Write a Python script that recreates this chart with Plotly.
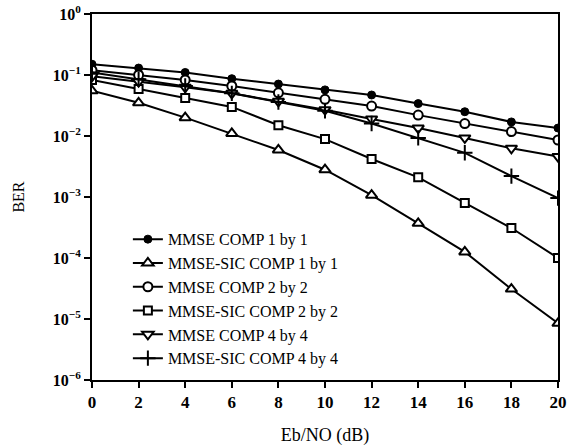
import plotly.graph_objects as go

ebno = [0, 2, 4, 6, 8, 10, 12, 14, 16, 18, 20]

mmse_1x1 = [0.15, 0.13, 0.11, 0.087, 0.071, 0.057, 0.047, 0.034, 0.025, 0.017, 0.0135]
sic_1x1 = [0.055, 0.035, 0.020, 0.011, 0.0059, 0.0028, 0.00107, 0.00037, 0.000126, 3.1e-5, 8.5e-6]
mmse_2x2 = [0.12, 0.10, 0.083, 0.066, 0.051, 0.040, 0.031, 0.022, 0.016, 0.0118, 0.0086]
sic_2x2 = [0.083, 0.059, 0.042, 0.030, 0.015, 0.0089, 0.0042, 0.0021, 0.0008, 0.00031, 0.0001]
mmse_4x4 = [0.095, 0.078, 0.063, 0.05, 0.037, 0.027, 0.019, 0.0135, 0.0093, 0.0063, 0.0046]
sic_4x4 = [0.11, 0.085, 0.066, 0.05, 0.036, 0.026, 0.016, 0.0093, 0.0053, 0.0022, 0.00096]

series_names = [
    "MMSE COMP 1 by 1",
    "MMSE-SIC COMP 1 by 1",
    "MMSE COMP 2 by 2",
    "MMSE-SIC COMP 2 by 2",
    "MMSE COMP 4 by 4",
    "MMSE-SIC COMP 4 by 4",
]
series_values = [mmse_1x1, sic_1x1, mmse_2x2, sic_2x2, mmse_4x4, sic_4x4]

y_tick_vals = [1, 0.1, 0.01, 0.001, 1e-4, 1e-5, 1e-6]
y_tick_text = ["10<sup>0</sup>", "10<sup>−1</sup>", "10<sup>−2</sup>", "10<sup>−3</sup>",
               "10<sup>−4</sup>", "10<sup>−5</sup>", "10<sup>−6</sup>"]

styles = [
    dict(symbol="circle", size=8, color="black", line=dict(color="black", width=1)),
    dict(symbol="triangle-up", size=10, color="white", line=dict(color="black", width=2)),
    dict(symbol="circle", size=9, color="white", line=dict(color="black", width=2)),
    dict(symbol="square", size=8, color="white", line=dict(color="black", width=2)),
    dict(symbol="triangle-down", size=10, color="white", line=dict(color="black", width=2)),
    dict(symbol="cross-thin", size=11, color="black", line=dict(color="black", width=2)),
]

fig = go.Figure()
for name, vals, st in zip(series_names, series_values, styles):
    fig.add_trace(go.Scatter(
        x=ebno, y=vals, name=name, mode="lines+markers",
        line=dict(color="black", width=2),
        marker=st,
    ))

serif = "Liberation Serif, Times New Roman, serif"

fig.update_layout(
    width=571, height=446,
    margin=dict(l=92, r=13, t=14, b=66),
    paper_bgcolor="white", plot_bgcolor="white",
    font=dict(family=serif, color="black", size=16),
    legend=dict(
        x=0.077, y=0.222, xanchor="left", yanchor="middle",
        bgcolor="rgba(0,0,0,0)", borderwidth=0,
        font=dict(family=serif, size=16, color="black"),
        tracegroupgap=0,
    ),
    xaxis=dict(
        title=dict(text="Eb/NO (dB)", font=dict(family=serif, size=18), standoff=30),
        automargin=False,
        range=[0, 20], tickmode="array", tickvals=ebno,
        ticks="outside", ticklen=6, tickwidth=2, tickcolor="black",
        showline=True, linewidth=2, linecolor="black", mirror=True,
        showgrid=False, zeroline=False,
        tickfont=dict(family=serif, size=17, weight="bold"),
    ),
    yaxis=dict(
        title=dict(text="BER", font=dict(family=serif, size=16), standoff=24),
        automargin=False,
        type="log", range=[-6, 0],
        tickmode="array", tickvals=y_tick_vals, ticktext=y_tick_text,
        ticks="outside", ticklen=6, tickwidth=2, tickcolor="black",
        showline=True, linewidth=2, linecolor="black", mirror=True,
        showgrid=False, zeroline=False,
        tickfont=dict(family=serif, size=16, weight="bold"),
    ),
)

fig.write_html(
    "out.html",
    config={"displayModeBar": False},
    post_script="document.body.style.margin='0';document.body.style.overflow='hidden';",
)
